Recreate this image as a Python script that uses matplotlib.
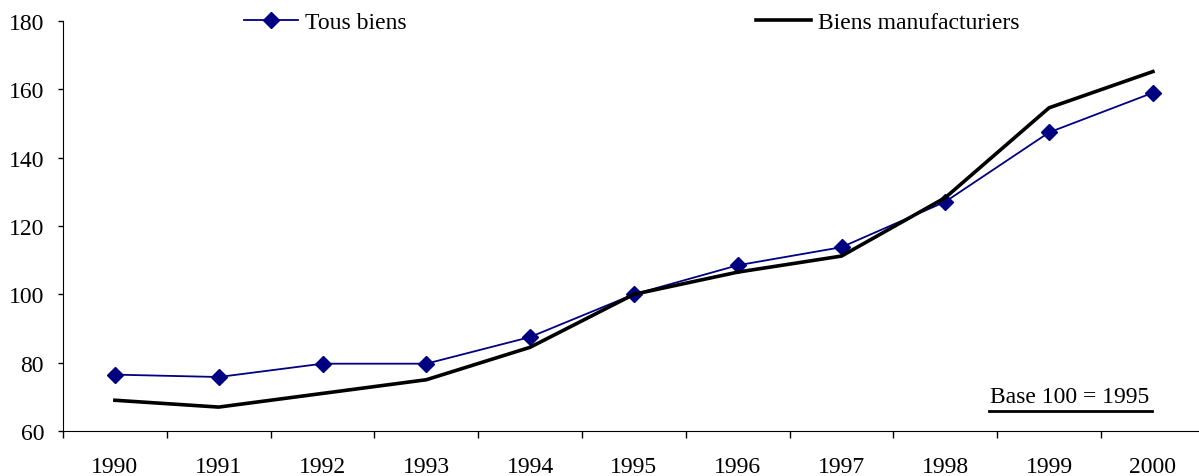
import matplotlib.pyplot as plt
import numpy as np

plt.rcParams['font.family'] = ['Liberation Serif', 'DejaVu Serif']

annees = ['1990', '1991', '1992', '1993', '1994', '1995', '1996', '1997', '1998', '1999', '2000']
tous_biens = [76.5, 75.8, 79.7, 79.7, 87.5, 100.0, 108.5, 113.8, 127.1, 147.4, 159.0]
biens_manuf = [69.0, 67.0, 71.0, 75.0, 84.5, 100.0, 106.5, 111.2, 128.3, 154.6, 165.2]

fig = plt.figure(figsize=(11.99, 4.77), dpi=100)
# l'axe est coupé à droite comme dans l'original
ax = fig.add_axes([63 / 1199, 45 / 477, (1199 - 63) / 1199, 410 / 477])

x = np.arange(len(annees))
l1, = ax.plot(x, tous_biens, color='#000080', lw=1.3, marker='D', markersize=8,
              markerfacecolor='#000080', markeredgecolor='#000080')
l2, = ax.plot(x, biens_manuf, color='black', lw=2.6)

ax.set_ylim(60, 180)
ax.set_yticks(range(60, 181, 20))
ax.set_xlim(-0.5, -0.5 + 1136 / 103.8)

# graduations entre les catégories, étiquettes au centre
ax.set_xticks(np.arange(-0.5, 10, 1))
ax.set_xticklabels([])
ax.set_xticks(x, minor=True)
ax.set_xticklabels(annees, minor=True)
ax.tick_params(axis='x', which='major', direction='out', length=5, width=1)
ax.tick_params(axis='x', which='minor', length=0, pad=18, labelsize=17)
ax.tick_params(axis='y', direction='out', length=3.6, width=1, pad=10, labelsize=17)

for s in ['top', 'right']:
    ax.spines[s].set_visible(False)
ax.spines['left'].set_color('black')
ax.spines['bottom'].set_color('black')

fig.legend([l1, l2], ['Tous biens', 'Biens manufacturiers'], ncol=2, frameon=False,
           loc='center left', bbox_to_anchor=(244 / 1199, 1 - 23 / 477),
           fontsize=17, handlelength=2.3, handletextpad=0.3, columnspacing=14.8,
           borderpad=0, borderaxespad=0)

ax.text(0.886, 0.085, 'Base 100 = 1995', transform=ax.transAxes, fontsize=17,
        ha='center', va='center')
ax.plot([0.815, 0.959], [0.049, 0.049], transform=ax.transAxes, color='black', lw=2,
        clip_on=False)

plt.savefig('out.png', dpi=100)
